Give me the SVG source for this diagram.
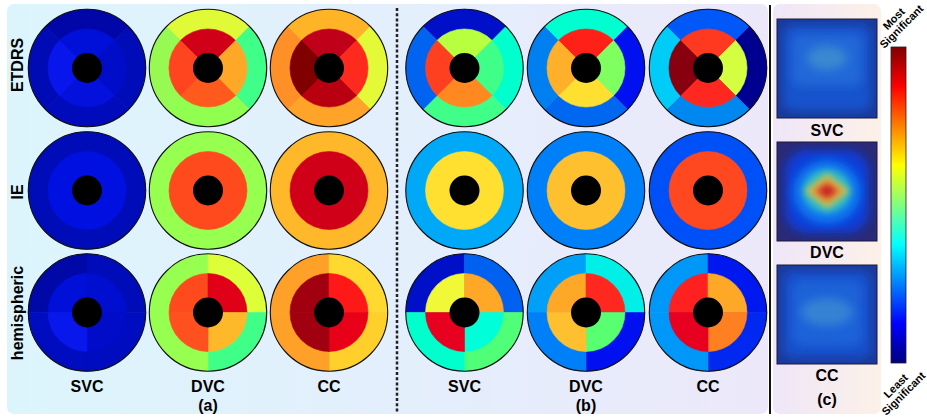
<svg xmlns="http://www.w3.org/2000/svg" width="927" height="418" viewBox="0 0 927 418">
<style>
.rim{fill:none;stroke:#111;stroke-width:1.1}
.hole{fill:#000}
.seg{fill:currentColor;stroke:currentColor;stroke-width:0.6}
.lbl{font-family:"Liberation Sans",Arial,sans-serif;font-weight:bold;font-size:16px;text-anchor:middle;fill:#000}
.sm{font-family:"Liberation Sans",Arial,sans-serif;font-weight:bold;font-size:11px;text-anchor:middle;fill:#000}
.sq{fill:none;stroke:#1a1a3a;stroke-width:1}
</style>
<defs>
<linearGradient id="bgab" x1="0" y1="0" x2="1" y2="0">
<stop offset="0" stop-color="#dcf5fc"/>
<stop offset="0.5" stop-color="#e3effc"/>
<stop offset="1" stop-color="#ece8fa"/>
</linearGradient>
<linearGradient id="bgc" x1="0" y1="0" x2="1" y2="0">
<stop offset="0" stop-color="#efe6f8"/>
<stop offset="1" stop-color="#fcf1e8"/>
</linearGradient>
<linearGradient id="jet" x1="0" y1="1" x2="0" y2="0">
<stop offset="0" stop-color="#000080"/>
<stop offset="0.125" stop-color="#0000ff"/>
<stop offset="0.375" stop-color="#00ffff"/>
<stop offset="0.625" stop-color="#ffff00"/>
<stop offset="0.875" stop-color="#ff0000"/>
<stop offset="1" stop-color="#800000"/>
</linearGradient>
<filter id="bl" x="-50%" y="-50%" width="200%" height="200%"><feGaussianBlur stdDeviation="5"/></filter>
<filter id="bl2" x="-50%" y="-50%" width="200%" height="200%"><feGaussianBlur stdDeviation="3"/></filter>
<clipPath id="c1"><rect x="777" y="19" width="100" height="99"/></clipPath>
<clipPath id="c2"><rect x="777" y="142" width="100" height="99"/></clipPath>
<clipPath id="c3"><rect x="777" y="265" width="100" height="99"/></clipPath>
<path id="eoT" class="seg" d="M0,0 L-41.5,-41.5 A58.7,58.7 0 0 1 41.5,-41.5 Z"/>
<path id="eoR" class="seg" d="M0,0 L41.5,-41.5 A58.7,58.7 0 0 1 41.5,41.5 Z"/>
<path id="eoB" class="seg" d="M0,0 L41.5,41.5 A58.7,58.7 0 0 1 -41.5,41.5 Z"/>
<path id="eoL" class="seg" d="M0,0 L-41.5,41.5 A58.7,58.7 0 0 1 -41.5,-41.5 Z"/>
<path id="eiT" class="seg" d="M0,0 L-27.6,-27.6 A39,39 0 0 1 27.6,-27.6 Z"/>
<path id="eiR" class="seg" d="M0,0 L27.6,-27.6 A39,39 0 0 1 27.6,27.6 Z"/>
<path id="eiB" class="seg" d="M0,0 L27.6,27.6 A39,39 0 0 1 -27.6,27.6 Z"/>
<path id="eiL" class="seg" d="M0,0 L-27.6,27.6 A39,39 0 0 1 -27.6,-27.6 Z"/>
<path id="hoTL" class="seg" d="M0,0 L-58.7,0 A58.7,58.7 0 0 1 0,-58.7 Z"/>
<path id="hoTR" class="seg" d="M0,0 L0,-58.7 A58.7,58.7 0 0 1 58.7,0 Z"/>
<path id="hoBR" class="seg" d="M0,0 L58.7,0 A58.7,58.7 0 0 1 0,58.7 Z"/>
<path id="hoBL" class="seg" d="M0,0 L0,58.7 A58.7,58.7 0 0 1 -58.7,0 Z"/>
<path id="hiTL" class="seg" d="M0,0 L-39,0 A39,39 0 0 1 0,-39 Z"/>
<path id="hiTR" class="seg" d="M0,0 L0,-39 A39,39 0 0 1 39,0 Z"/>
<path id="hiBR" class="seg" d="M0,0 L39,0 A39,39 0 0 1 0,39 Z"/>
<path id="hiBL" class="seg" d="M0,0 L0,39 A39,39 0 0 1 -39,0 Z"/>
<circle id="ro" class="seg" r="58.7"/>
<circle id="ri" class="seg" r="39"/>
<g id="cap"><circle class="hole" r="15"/><circle class="rim" r="58.7"/></g>
</defs>

<rect x="7" y="4" width="761" height="410" rx="7" fill="url(#bgab)"/>
<rect x="773" y="4" width="108" height="410" rx="7" fill="url(#bgc)"/>
<line x1="397" y1="8" x2="397" y2="413" stroke="#222" stroke-width="2.5" stroke-dasharray="3,2.2"/>
<line x1="770" y1="5" x2="770" y2="414" stroke="#111" stroke-width="2"/>

<text class="lbl" transform="translate(23,65) rotate(-90)">ETDRS</text>
<text class="lbl" transform="translate(23,192) rotate(-90)">IE</text>
<text class="lbl" transform="translate(23,313) rotate(-90)">hemispheric</text>

<g id="a-etdrs-svc" transform="translate(87,68)">
<use href="#eoT" color="#0006a8"/><use href="#eoR" color="#000cb8"/><use href="#eoB" color="#000cbc"/><use href="#eoL" color="#000bb6"/>
<use href="#eiT" color="#0010d8"/><use href="#eiR" color="#000dc8"/><use href="#eiB" color="#0410dc"/><use href="#eiL" color="#0816ec"/>
<use href="#cap"/></g>
<g id="a-etdrs-dvc" transform="translate(208,68)">
<use href="#eoT" color="#e0fa38"/><use href="#eoR" color="#40ff88"/><use href="#eoB" color="#90ff50"/><use href="#eoL" color="#96fa52"/>
<use href="#eiT" color="#d00018"/><use href="#eiR" color="#ffa828"/><use href="#eiB" color="#ff5a1e"/><use href="#eiL" color="#ff4420"/>
<use href="#cap"/></g>
<g id="a-etdrs-cc" transform="translate(329,68)">
<use href="#eoT" color="#ffb428"/><use href="#eoR" color="#e4fa38"/><use href="#eoB" color="#ffa428"/><use href="#eoL" color="#ff9028"/>
<use href="#eiT" color="#c00018"/><use href="#eiR" color="#ff2a1e"/><use href="#eiB" color="#b80010"/><use href="#eiL" color="#800000"/>
<use href="#cap"/></g>

<g id="a-ie-svc" transform="translate(87,190.5)"><use href="#ro" color="#000cb8"/><use href="#ri" color="#0010e0"/><use href="#cap"/></g>
<g id="a-ie-dvc" transform="translate(208,190.5)"><use href="#ro" color="#96ff50"/><use href="#ri" color="#ff4a1e"/><use href="#cap"/></g>
<g id="a-ie-cc" transform="translate(329,190.5)"><use href="#ro" color="#ffb82a"/><use href="#ri" color="#d00018"/><use href="#cap"/></g>

<g id="a-hem-svc" transform="translate(87,312.5)">
<use href="#hoTL" color="#0008a8"/><use href="#hoTR" color="#000cb8"/><use href="#hoBR" color="#000cc0"/><use href="#hoBL" color="#000cc0"/>
<use href="#hiTL" color="#0010d8"/><use href="#hiTR" color="#000ed0"/><use href="#hiBR" color="#000cc8"/><use href="#hiBL" color="#0818ec"/>
<use href="#cap"/></g>
<g id="a-hem-dvc" transform="translate(208,312.5)">
<use href="#hoTL" color="#96ff50"/><use href="#hoTR" color="#dcff38"/><use href="#hoBR" color="#40ff88"/><use href="#hoBL" color="#96ff50"/>
<use href="#hiTL" color="#ff4a1e"/><use href="#hiTR" color="#e00018"/><use href="#hiBR" color="#ffb82a"/><use href="#hiBL" color="#ff5020"/>
<use href="#cap"/></g>
<g id="a-hem-cc" transform="translate(329,312.5)">
<use href="#hoTL" color="#ffa028"/><use href="#hoTR" color="#ffd830"/><use href="#hoBR" color="#ffd02c"/><use href="#hoBL" color="#ffa028"/>
<use href="#hiTL" color="#a00010"/><use href="#hiTR" color="#ff1818"/><use href="#hiBR" color="#e80018"/><use href="#hiBL" color="#a00010"/>
<use href="#cap"/></g>

<g id="b-etdrs-svc" transform="translate(464.5,68)">
<use href="#eoT" color="#0010c8"/><use href="#eoR" color="#00ffcc"/><use href="#eoB" color="#40ff88"/><use href="#eoL" color="#0064f0"/>
<use href="#eiT" color="#b8ff40"/><use href="#eiR" color="#40ff88"/><use href="#eiB" color="#ff8820"/><use href="#eiL" color="#ff4020"/>
<use href="#cap"/></g>
<g id="b-etdrs-dvc" transform="translate(586,68)">
<use href="#eoT" color="#00ffd0"/><use href="#eoR" color="#0010f0"/><use href="#eoB" color="#0068f0"/><use href="#eoL" color="#0080f0"/>
<use href="#eiT" color="#ff2018"/><use href="#eiR" color="#80ff60"/><use href="#eiB" color="#ffe030"/><use href="#eiL" color="#ffb02a"/>
<use href="#cap"/></g>
<g id="b-etdrs-cc" transform="translate(708,68)">
<use href="#eoT" color="#0058f8"/><use href="#eoR" color="#000090"/><use href="#eoB" color="#0088f0"/><use href="#eoL" color="#00ccf8"/>
<use href="#eiT" color="#ff3820"/><use href="#eiR" color="#d4ff40"/><use href="#eiB" color="#ff2820"/><use href="#eiL" color="#880010"/>
<use href="#cap"/></g>

<g id="b-ie-svc" transform="translate(464.5,190.5)"><use href="#ro" color="#00a8f8"/><use href="#ri" color="#ffe030"/><use href="#cap"/></g>
<g id="b-ie-dvc" transform="translate(586,190.5)"><use href="#ro" color="#0080f8"/><use href="#ri" color="#ffc030"/><use href="#cap"/></g>
<g id="b-ie-cc" transform="translate(708,190.5)"><use href="#ro" color="#0050f8"/><use href="#ri" color="#ff4820"/><use href="#cap"/></g>

<g id="b-hem-svc" transform="translate(464.5,312.5)">
<use href="#hoTL" color="#0010c8"/><use href="#hoTR" color="#0060f0"/><use href="#hoBR" color="#50ff78"/><use href="#hoBL" color="#00ffcc"/>
<use href="#hiTL" color="#f0f838"/><use href="#hiTR" color="#ffa828"/><use href="#hiBR" color="#00ffd8"/><use href="#hiBL" color="#e80020"/>
<use href="#cap"/></g>
<g id="b-hem-dvc" transform="translate(586,312.5)">
<use href="#hoTL" color="#00a0f8"/><use href="#hoTR" color="#00f0e8"/><use href="#hoBR" color="#0010f0"/><use href="#hoBL" color="#0080f8"/>
<use href="#hiTL" color="#ffa828"/><use href="#hiTR" color="#ff2820"/><use href="#hiBR" color="#58ff70"/><use href="#hiBL" color="#ffc030"/>
<use href="#cap"/></g>
<g id="b-hem-cc" transform="translate(708,312.5)">
<use href="#hoTL" color="#0098f8"/><use href="#hoTR" color="#0018f0"/><use href="#hoBR" color="#0028f0"/><use href="#hoBL" color="#0098f8"/>
<use href="#hiTL" color="#ff2020"/><use href="#hiTR" color="#ffa828"/><use href="#hiBR" color="#ff8020"/><use href="#hiBL" color="#e80020"/>
<use href="#cap"/></g>

<text class="lbl" x="87" y="392">SVC</text>
<text class="lbl" x="208" y="392">DVC</text>
<text class="lbl" x="329" y="392">CC</text>
<text class="lbl" x="208" y="411">(a)</text>
<text class="lbl" x="464.5" y="392">SVC</text>
<text class="lbl" x="586" y="392">DVC</text>
<text class="lbl" x="708" y="392">CC</text>
<text class="lbl" x="586" y="411">(b)</text>

<g id="c-svc">
<g clip-path="url(#c1)">
<rect x="777" y="19" width="100" height="99" fill="#1a3a9c"/>
<rect x="783" y="25" width="88" height="86" rx="10" fill="#1452cc" filter="url(#bl)"/>
<rect x="792" y="34" width="70" height="52" rx="8" fill="#2068d8" filter="url(#bl)"/>
<ellipse cx="827" cy="58" rx="20" ry="12" fill="#3a88d0" filter="url(#bl)"/>
</g>
<rect class="sq" x="777" y="19" width="100" height="99"/>
</g>
<g id="c-dvc">
<g clip-path="url(#c2)">
<rect x="777" y="142" width="100" height="99" fill="#2a2a78"/>
<rect x="785" y="150" width="84" height="83" rx="22" fill="#0c3ed8" filter="url(#bl)"/>
<ellipse cx="827" cy="192" rx="34" ry="32" fill="#0a78f0" filter="url(#bl)"/>
<ellipse cx="827" cy="191" rx="24" ry="22" fill="#30b8c8" filter="url(#bl2)"/>
<path d="M827,173 L850,191 L827,209 L804,191 Z" fill="#a8c860" filter="url(#bl2)"/>
<path d="M827,178 L845,191 L827,204 L809,191 Z" fill="#e8a040" filter="url(#bl2)"/>
<path d="M827,183 L838,191 L827,199 L816,191 Z" fill="#c82820" filter="url(#bl2)"/>
</g>
<rect class="sq" x="777" y="142" width="100" height="99"/>
</g>
<g id="c-cc">
<g clip-path="url(#c3)">
<rect x="777" y="265" width="100" height="99" fill="#1c3a9a"/>
<rect x="783" y="271" width="88" height="87" rx="10" fill="#1450cc" filter="url(#bl)"/>
<rect x="792" y="280" width="70" height="66" rx="10" fill="#1c62d8" filter="url(#bl)"/>
<ellipse cx="827" cy="312" rx="26" ry="14" fill="#3482d4" filter="url(#bl)"/>
</g>
<rect class="sq" x="777" y="265" width="100" height="99"/>
</g>
<text class="lbl" x="827" y="136">SVC</text>
<text class="lbl" x="827" y="258">DVC</text>
<text class="lbl" x="827" y="381">CC</text>
<text class="lbl" x="827" y="405">(c)</text>

<g id="colorbar">
<rect x="891" y="47" width="15" height="316" fill="url(#jet)" stroke="#222" stroke-width="0.8"/>
<text class="sm" transform="translate(900,25) rotate(-45)"><tspan x="0" y="-5">Most</tspan><tspan x="0" y="6">Significant</tspan></text>
<text class="sm" transform="translate(902,392) rotate(-45)"><tspan x="0" y="-5">Least</tspan><tspan x="0" y="6">Significant</tspan></text>
</g>
</svg>
